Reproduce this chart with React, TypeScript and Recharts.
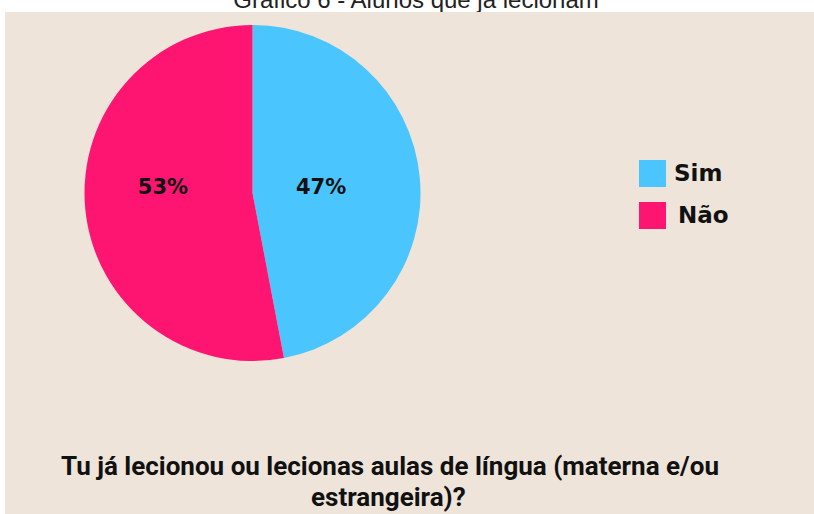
import React from "react";
import { PieChart, Pie, Cell, Legend } from "recharts";

const categories = ["Sim", "Não"];
const values = [47, 53];
const title = "Gráfico 6 - Alunos que já lecionam";
const questionLines = ["Tu já lecionou ou lecionas aulas de língua (materna e/ou", "estrangeira)?"];

const colors = ["#4BC5FD", "#FE1572"];
const labelRadius = [0.41, 0.534];
const labelAngleShift = [0, -9.2];
const RAD = Math.PI / 180;

const data = categories.map((name, i) => ({ name, value: values[i] }));

const renderLabel = (props: any) => {
  const { cx, cy, midAngle, outerRadius, percent, index } = props;
  const r = outerRadius * labelRadius[index];
  const a = midAngle + labelAngleShift[index];
  const x = cx + r * Math.cos(-a * RAD);
  const y = cy + r * Math.sin(-a * RAD);
  return (
    <text
      x={x}
      y={y}
      textAnchor="middle"
      dominantBaseline="central"
      fill="#111"
      style={{ fontFamily: "DejaVu Sans", fontWeight: 700, fontSize: 21 }}
    >
      {`${Math.round(percent * 100)}%`}
    </text>
  );
};

const renderLegend = (props: any) => {
  const payload = [...(props.payload || [])].sort(
    (a: any, b: any) => categories.indexOf(a.value) - categories.indexOf(b.value)
  );
  return (
    <div>
      {payload.map((p: any, i: number) => (
        <div key={i} style={{ display: "flex", alignItems: "center", height: 28, marginBottom: i === 0 ? 14 : 0 }}>
          <div style={{ width: 27, height: 27, background: p.color, marginRight: i === 0 ? 8 : 12 }} />
          <span style={{ fontFamily: "DejaVu Sans", fontWeight: 700, fontSize: 23, color: "#111", lineHeight: "28px" }}>
            {p.value}
          </span>
        </div>
      ))}
    </div>
  );
};

const questionStyle: React.CSSProperties = {
  position: "absolute",
  textAlign: "left",
  fontFamily: "Roboto",
  fontWeight: 700,
  fontSize: 26,
  lineHeight: "30px",
  color: "#111",
  whiteSpace: "nowrap",
};

export default function App() {
  return (
    <div
      style={{
        position: "fixed",
        left: 0,
        top: 0,
        width: 814,
        height: 514,
        background: "#ffffff",
        overflow: "hidden",
      }}
    >
      <div
        style={{
          position: "absolute",
          left: 416 - 400,
          width: 800,
          top: -14,
          textAlign: "center",
          fontFamily: "Liberation Sans",
          fontSize: 24,
          lineHeight: "28px",
          color: "#222",
        }}
      >
        {title}
      </div>
      <div style={{ position: "absolute", left: 5, top: 12, width: 809, height: 502, background: "#EEE4D9" }} />
      <div style={{ position: "absolute", left: 0, top: 0 }}>
        <PieChart width={814} height={514} margin={{ top: 0, right: 0, bottom: 0, left: 0 }}>
          <Pie
            data={data}
            dataKey="value"
            nameKey="name"
            cx={252.5}
            cy={193}
            outerRadius={168}
            startAngle={90}
            endAngle={-270}
            stroke="none"
            label={renderLabel}
            labelLine={false}
            isAnimationActive={false}
          >
            {data.map((d, i) => (
              <Cell key={d.name} fill={colors[i]} />
            ))}
          </Pie>
          <Legend
            layout="vertical"
            content={renderLegend}
            wrapperStyle={{ position: "absolute", left: 639, top: 159, width: 160 }}
          />
        </PieChart>
      </div>
      <div style={{ ...questionStyle, left: 61, top: 451 }}>{questionLines[0]}</div>
      <div style={{ ...questionStyle, left: 311, top: 482 }}>{questionLines[1]}</div>
    </div>
  );
}
